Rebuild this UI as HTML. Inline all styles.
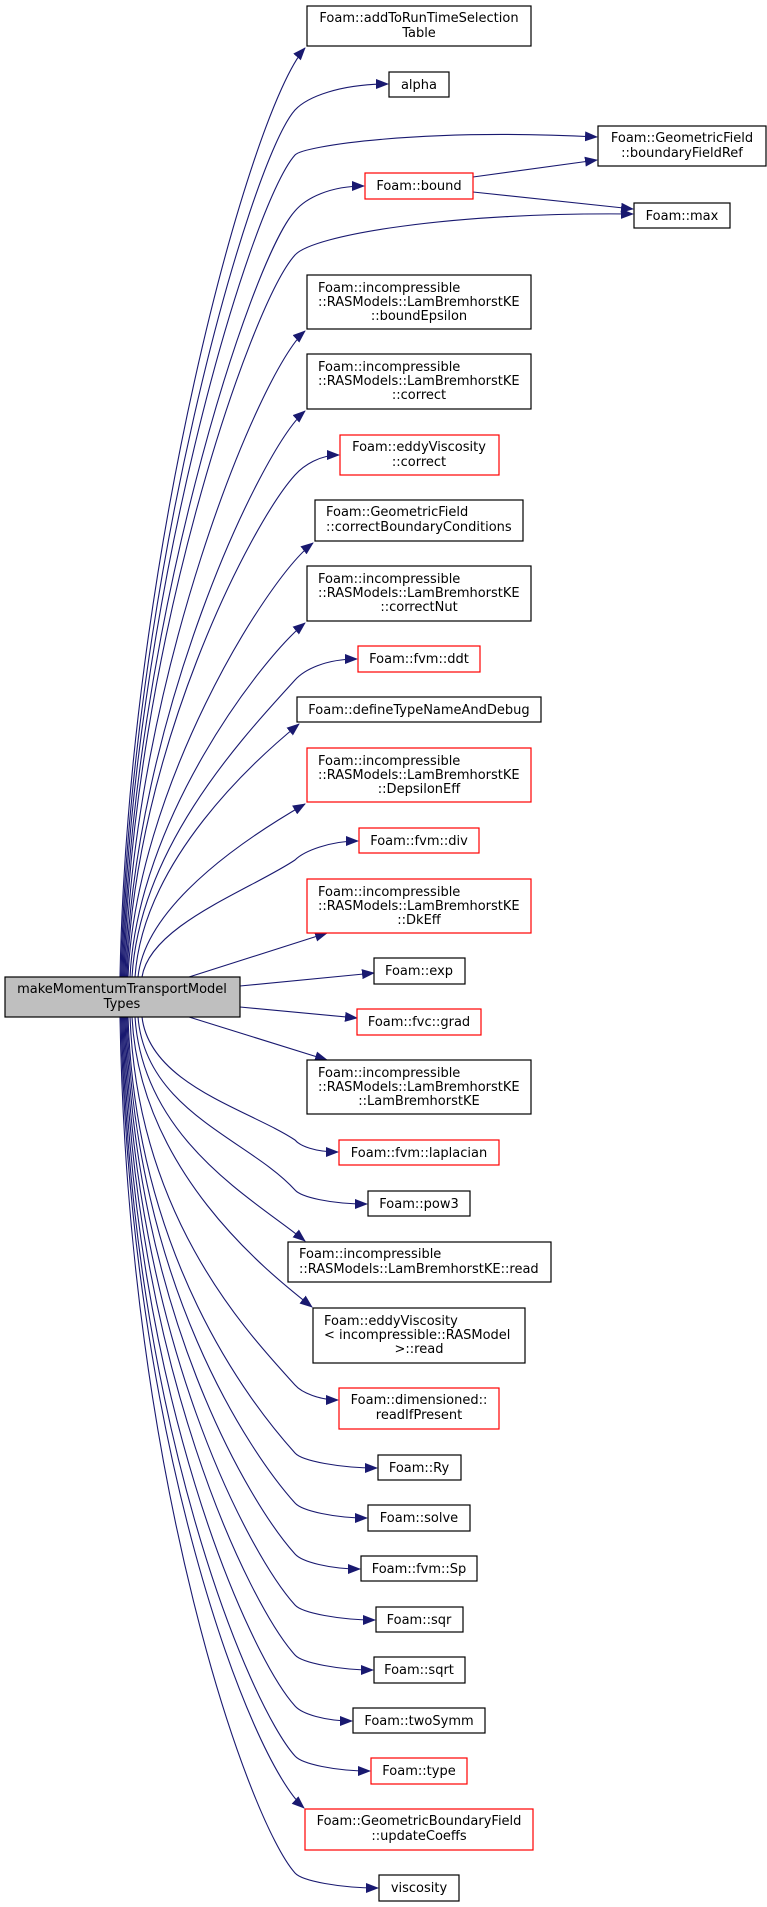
<!DOCTYPE html>
<html><head><meta charset="utf-8"><style>
html,body{margin:0;padding:0;background:#fff;}
svg{display:block;}
text{font-family:"DejaVu Sans","Liberation Sans",sans-serif;font-size:13px;fill:#000;}
.b{fill:#fff;stroke:#000;stroke-width:1.2;}
.r{fill:#fff;stroke:#ff0000;stroke-width:1.2;}
.e{fill:none;stroke:#191970;stroke-width:1.1;}
</style></head><body>
<svg width="767" height="1907" viewBox="0 0 767 1907" xmlns="http://www.w3.org/2000/svg">
<defs><marker id="a" markerWidth="13" markerHeight="10" refX="12" refY="5" orient="auto" markerUnits="userSpaceOnUse"><path d="M0,0 L13,5 L0,10 z" fill="#191970"/></marker></defs>
<g class="edges">
<path class="e" marker-end="url(#a)" d="M120,977 C128,560 250,110 305,48"/>
<path class="e" marker-end="url(#a)" d="M121,977 C129,587 250,160 295,110 C307,97 340,84 388,84"/>
<path class="e" marker-end="url(#a)" d="M122,977 C130,607 250,205 295,155 C303,146 420,128 597,137"/>
<path class="e" marker-end="url(#a)" d="M123,977 C131,632 250,261 295,211 C306,198 330,186 364,186"/>
<path class="e" marker-end="url(#a)" d="M124,977 C132,652 250,305 295,255 C313,235 450,212 633,214"/>
<path class="e" marker-end="url(#a)" d="M125,977 C133,680 260,370 305,331"/>
<path class="e" marker-end="url(#a)" d="M126,977 C134,720 260,450 305,411"/>
<path class="e" marker-end="url(#a)" d="M127,977 C135,751 250,525 295,475 C304,465 320,455 339,455"/>
<path class="e" marker-end="url(#a)" d="M128,977 C136,790 265,580 313,543"/>
<path class="e" marker-end="url(#a)" d="M130,977 C138,820 260,660 305,623"/>
<path class="e" marker-end="url(#a)" d="M132,977 C140,843 250,730 295,680 C304,670 325,659 357,659"/>
<path class="e" marker-end="url(#a)" d="M135,977 C143,860 255,760 299,724"/>
<path class="e" marker-end="url(#a)" d="M138,977 C146,900 260,830 305,804"/>
<path class="e" marker-end="url(#a)" d="M142,977 C150,925 250,890 295,860 C304,851 330,841 358,841"/>
<path class="e" marker-end="url(#a)" d="M189,977 L327,933"/>
<path class="e" marker-end="url(#a)" d="M240,986 L374,973"/>
<path class="e" marker-end="url(#a)" d="M240,1007 L357,1018"/>
<path class="e" marker-end="url(#a)" d="M189,1017 L327,1060"/>
<path class="e" marker-end="url(#a)" d="M142,1017 C150,1085 250,1110 295,1140 C300,1146 315,1152 338,1152"/>
<path class="e" marker-end="url(#a)" d="M138,1017 C146,1112 250,1140 295,1190 C301,1197 330,1204 367,1204"/>
<path class="e" marker-end="url(#a)" d="M135,1017 C143,1140 255,1200 305,1241"/>
<path class="e" marker-end="url(#a)" d="M132,1017 C140,1170 265,1270 312,1307"/>
<path class="e" marker-end="url(#a)" d="M130,1017 C138,1220 250,1335 295,1385 C302,1393 320,1400 338,1400"/>
<path class="e" marker-end="url(#a)" d="M128,1017 C136,1257 250,1403 295,1453 C302,1461 340,1468 377,1468"/>
<path class="e" marker-end="url(#a)" d="M127,1017 C135,1284 250,1453 295,1503 C302,1511 335,1518 367,1518"/>
<path class="e" marker-end="url(#a)" d="M126,1017 C134,1312 250,1504 295,1554 C302,1562 330,1569 360,1569"/>
<path class="e" marker-end="url(#a)" d="M125,1017 C133,1340 250,1555 295,1605 C302,1613 340,1620 375,1620"/>
<path class="e" marker-end="url(#a)" d="M124,1017 C132,1367 250,1605 295,1655 C302,1663 340,1670 373,1670"/>
<path class="e" marker-end="url(#a)" d="M123,1017 C131,1396 250,1656 295,1706 C302,1714 325,1721 352,1721"/>
<path class="e" marker-end="url(#a)" d="M122,1017 C130,1423 250,1706 295,1756 C302,1764 335,1771 370,1771"/>
<path class="e" marker-end="url(#a)" d="M121,1017 C129,1440 250,1760 304,1808"/>
<path class="e" marker-end="url(#a)" d="M120,1017 C128,1485 250,1823 295,1873 C302,1881 340,1888 378,1888"/>
<path class="e" marker-end="url(#a)" d="M473,177 L597,160"/>
<path class="e" marker-end="url(#a)" d="M473,192 L633,209"/>
</g>
<g class="nodes">
<rect class="b" x="307" y="6" width="224" height="40"/><text x="419" y="22" text-anchor="middle">Foam::addToRunTimeSelection</text><text x="419" y="37" text-anchor="middle">Table</text>
<rect class="b" x="389" y="72" width="60" height="25"/><text x="419" y="89" text-anchor="middle">alpha</text>
<rect class="b" x="598" y="126" width="168" height="40"/><text x="682" y="142" text-anchor="middle">Foam::GeometricField</text><text x="682" y="157" text-anchor="middle">::boundaryFieldRef</text>
<rect class="r" x="365" y="173" width="108" height="26"/><text x="419" y="190" text-anchor="middle">Foam::bound</text>
<rect class="b" x="634" y="203" width="96" height="25"/><text x="682" y="220" text-anchor="middle">Foam::max</text>
<rect class="b" x="307" y="275" width="224" height="54"/><text x="318" y="292">Foam::incompressible</text><text x="318" y="306">::RASModels::LamBremhorstKE</text><text x="419" y="320" text-anchor="middle">::boundEpsilon</text>
<rect class="b" x="307" y="354" width="224" height="55"/><text x="318" y="371">Foam::incompressible</text><text x="318" y="385">::RASModels::LamBremhorstKE</text><text x="419" y="399" text-anchor="middle">::correct</text>
<rect class="r" x="340" y="435" width="159" height="40"/><text x="419" y="451" text-anchor="middle">Foam::eddyViscosity</text><text x="419" y="466" text-anchor="middle">::correct</text>
<rect class="b" x="315" y="500" width="208" height="41"/><text x="326" y="516">Foam::GeometricField</text><text x="326" y="531">::correctBoundaryConditions</text>
<rect class="b" x="307" y="566" width="224" height="55"/><text x="318" y="583">Foam::incompressible</text><text x="318" y="597">::RASModels::LamBremhorstKE</text><text x="419" y="611" text-anchor="middle">::correctNut</text>
<rect class="r" x="358" y="646" width="122" height="26"/><text x="419" y="663" text-anchor="middle">Foam::fvm::ddt</text>
<rect class="b" x="297" y="697" width="244" height="25"/><text x="419" y="714" text-anchor="middle">Foam::defineTypeNameAndDebug</text>
<rect class="r" x="307" y="748" width="224" height="54"/><text x="318" y="765">Foam::incompressible</text><text x="318" y="779">::RASModels::LamBremhorstKE</text><text x="419" y="793" text-anchor="middle">::DepsilonEff</text>
<rect class="r" x="359" y="828" width="120" height="25"/><text x="419" y="845" text-anchor="middle">Foam::fvm::div</text>
<rect class="r" x="307" y="879" width="224" height="54"/><text x="318" y="896">Foam::incompressible</text><text x="318" y="910">::RASModels::LamBremhorstKE</text><text x="419" y="924" text-anchor="middle">::DkEff</text>
<rect class="b" x="374" y="958" width="91" height="26"/><text x="419" y="975" text-anchor="middle">Foam::exp</text>
<rect x="5" y="977" width="235" height="40" fill="#bfbfbf" stroke="#000" stroke-width="1.2"/><text x="122" y="993" text-anchor="middle">makeMomentumTransportModel</text><text x="122" y="1008" text-anchor="middle">Types</text>
<rect class="r" x="357" y="1009" width="124" height="26"/><text x="419" y="1026" text-anchor="middle">Foam::fvc::grad</text>
<rect class="b" x="307" y="1060" width="224" height="54"/><text x="318" y="1077">Foam::incompressible</text><text x="318" y="1091">::RASModels::LamBremhorstKE</text><text x="419" y="1105" text-anchor="middle">::LamBremhorstKE</text>
<rect class="r" x="339" y="1140" width="160" height="25"/><text x="419" y="1157" text-anchor="middle">Foam::fvm::laplacian</text>
<rect class="b" x="368" y="1191" width="102" height="25"/><text x="419" y="1208" text-anchor="middle">Foam::pow3</text>
<rect class="b" x="288" y="1242" width="263" height="40"/><text x="299" y="1258">Foam::incompressible</text><text x="299" y="1273">::RASModels::LamBremhorstKE::read</text>
<rect class="b" x="313" y="1308" width="212" height="55"/><text x="324" y="1325">Foam::eddyViscosity</text><text x="324" y="1339">&lt; incompressible::RASModel</text><text x="419" y="1353" text-anchor="middle">&gt;::read</text>
<rect class="r" x="339" y="1388" width="160" height="41"/><text x="419" y="1404" text-anchor="middle">Foam::dimensioned::</text><text x="419" y="1419" text-anchor="middle">readIfPresent</text>
<rect class="b" x="378" y="1455" width="83" height="25"/><text x="419" y="1472" text-anchor="middle">Foam::Ry</text>
<rect class="b" x="368" y="1505" width="102" height="26"/><text x="419" y="1522" text-anchor="middle">Foam::solve</text>
<rect class="b" x="361" y="1556" width="116" height="25"/><text x="419" y="1573" text-anchor="middle">Foam::fvm::Sp</text>
<rect class="b" x="376" y="1607" width="87" height="25"/><text x="419" y="1624" text-anchor="middle">Foam::sqr</text>
<rect class="b" x="374" y="1657" width="91" height="26"/><text x="419" y="1674" text-anchor="middle">Foam::sqrt</text>
<rect class="b" x="353" y="1708" width="132" height="25"/><text x="419" y="1725" text-anchor="middle">Foam::twoSymm</text>
<rect class="r" x="371" y="1758" width="96" height="26"/><text x="419" y="1775" text-anchor="middle">Foam::type</text>
<rect class="r" x="305" y="1809" width="228" height="41"/><text x="419" y="1825" text-anchor="middle">Foam::GeometricBoundaryField</text><text x="419" y="1840" text-anchor="middle">::updateCoeffs</text>
<rect class="b" x="379" y="1875" width="80" height="26"/><text x="419" y="1892" text-anchor="middle">viscosity</text>
</g>
</svg>
</body></html>
